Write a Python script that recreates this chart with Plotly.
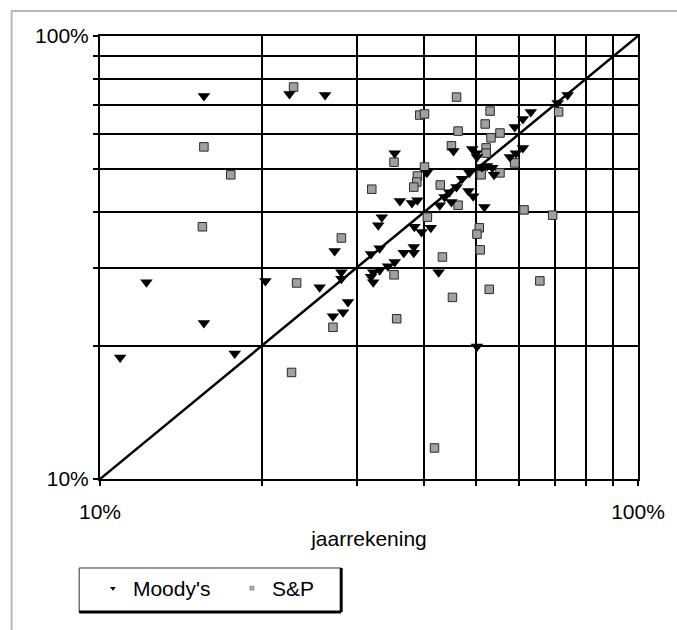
import plotly.graph_objects as go

# Moody's rating-implied vs annual-accounts (jaarrekening) ratios
moodys_x = [0.109, 0.122, 0.156, 0.156, 0.178, 0.203, 0.225, 0.262, 0.256, 0.273,
            0.281, 0.281, 0.289, 0.283, 0.271, 0.334, 0.329, 0.331, 0.319, 0.322,
            0.319, 0.322, 0.331, 0.343, 0.353, 0.367, 0.383, 0.383, 0.426, 0.384,
            0.396, 0.412, 0.361, 0.380, 0.389, 0.428, 0.518, 0.437, 0.450, 0.446,
            0.460, 0.471, 0.484, 0.494, 0.486, 0.405, 0.513, 0.524, 0.536, 0.540,
            0.502, 0.492, 0.500, 0.454, 0.578, 0.593, 0.611, 0.590, 0.611, 0.632,
            0.709, 0.740, 0.353, 0.502]
moodys_y = [0.188, 0.278, 0.225, 0.732, 0.192, 0.280, 0.740, 0.736, 0.271, 0.327,
            0.293, 0.283, 0.251, 0.238, 0.233, 0.390, 0.374, 0.332, 0.322, 0.293,
            0.286, 0.278, 0.296, 0.302, 0.309, 0.324, 0.334, 0.324, 0.293, 0.371,
            0.361, 0.369, 0.424, 0.420, 0.426, 0.415, 0.411, 0.433, 0.422, 0.444,
            0.456, 0.476, 0.447, 0.435, 0.491, 0.491, 0.506, 0.509, 0.504, 0.486,
            0.533, 0.556, 0.544, 0.550, 0.533, 0.544, 0.559, 0.623, 0.650, 0.674,
            0.706, 0.736, 0.544, 0.199]

sp_x = [0.229, 0.156, 0.175, 0.320, 0.155, 0.281, 0.232, 0.271, 0.227, 0.352,
        0.356, 0.433, 0.452, 0.4185, 0.529, 0.657, 0.406, 0.463, 0.507, 0.502,
        0.509, 0.614, 0.694, 0.460, 0.393, 0.401, 0.531, 0.712, 0.520, 0.463,
        0.554, 0.533, 0.450, 0.522, 0.522, 0.590, 0.511, 0.554, 0.401, 0.389,
        0.388, 0.383, 0.429, 0.352]
sp_y = [0.767, 0.562, 0.486, 0.451, 0.371, 0.350, 0.277, 0.220, 0.174, 0.289,
        0.230, 0.317, 0.257, 0.1175, 0.268, 0.280, 0.390, 0.415, 0.369, 0.357,
        0.329, 0.405, 0.394, 0.728, 0.663, 0.667, 0.677, 0.674, 0.633, 0.610,
        0.604, 0.589, 0.565, 0.559, 0.544, 0.517, 0.486, 0.491, 0.506, 0.483,
        0.468, 0.456, 0.461, 0.519]

diag = [0.1, 1.0]
major_ticks = [0.1, 1.0]
major_labels = ["10%", "100%"]
minor_ticks = [0.2, 0.3, 0.4, 0.5, 0.6, 0.7, 0.8, 0.9]

FONT = "Liberation Sans, Arial, sans-serif"

fig = go.Figure()
fig.add_trace(go.Scatter(x=diag, y=diag, mode="lines",
                         line=dict(color="black", width=2.5), showlegend=False,
                         hoverinfo="skip"))
fig.add_trace(go.Scatter(x=sp_x, y=sp_y, mode="markers", name="S&P", showlegend=False,
                         marker=dict(symbol="square", size=8.5, color="#a0a0a0",
                                     line=dict(color="#2a2a2a", width=1))))
fig.add_trace(go.Scatter(x=moodys_x, y=moodys_y, mode="markers", name="Moody's",
                         showlegend=False,
                         marker=dict(symbol="triangle-down", size=11, color="black",
                                     line=dict(width=0))))
# legend-only entries with small symbols
fig.add_trace(go.Scatter(x=[None], y=[None], mode="markers", name="Moody's",
                         marker=dict(symbol="triangle-down", size=5, color="black")))
fig.add_trace(go.Scatter(x=[None], y=[None], mode="markers", name="S&P",
                         marker=dict(symbol="square", size=4, color="#b4b4b4",
                                     line=dict(color="#555", width=0.5))))

axis_common = dict(
    type="log", showline=True, linecolor="black", linewidth=2, mirror=True,
    showgrid=False, zeroline=False, ticks="outside", ticklen=5, tickwidth=2,
    tickcolor="black", tickvals=major_ticks, ticktext=major_labels,
    tickfont=dict(family=FONT, size=21, color="black"),
    minor=dict(tickvals=minor_ticks, showgrid=True, gridcolor="black", gridwidth=2,
               ticks="outside", ticklen=5, tickwidth=2, tickcolor="black"),
)

fig.update_layout(
    width=677, height=630,
    margin=dict(l=100, r=35, t=36, b=151),
    paper_bgcolor="white", plot_bgcolor="white",
    font=dict(family=FONT, size=21, color="black"),
    xaxis=dict(range=[-1, 0], ticklabelstandoff=8,
               title=dict(text="jaarrekening", standoff=9,
                          font=dict(family=FONT, size=21, color="black")),
               **axis_common),
    yaxis=dict(range=[-1, 0], **axis_common),
    showlegend=True,
    legend=dict(orientation="h", x=-0.0387 + 0.0255, y=-0.2009, xanchor="left",
                yanchor="top", bgcolor="rgba(0,0,0,0)", borderwidth=0,
                entrywidth=94, entrywidthmode="pixels",
                font=dict(family=FONT, size=21, color="black"),
                itemsizing="trace"),
    shapes=[
        # outer light frame
        dict(type="rect", xref="paper", yref="paper", x0=-0.1642, x1=1.10,
             y0=-0.40, y1=1.0565, line=dict(color="#b8b8b8", width=2),
             fillcolor="rgba(0,0,0,0)", layer="below"),
        # legend box
        dict(type="rect", xref="paper", yref="paper", x0=-0.0387, x1=0.4483,
             y0=-0.3002, y1=-0.2009, line=dict(color="#333", width=1),
             fillcolor="rgba(0,0,0,0)"),
        dict(type="line", xref="paper", yref="paper", x0=-0.0387, x1=0.4483,
             y0=-0.3002, y1=-0.3002, line=dict(color="black", width=3)),
        dict(type="line", xref="paper", yref="paper", x0=0.4483, x1=0.4483,
             y0=-0.3002, y1=-0.2009, line=dict(color="black", width=3)),
    ],
)

fig.write_html("out.html")
